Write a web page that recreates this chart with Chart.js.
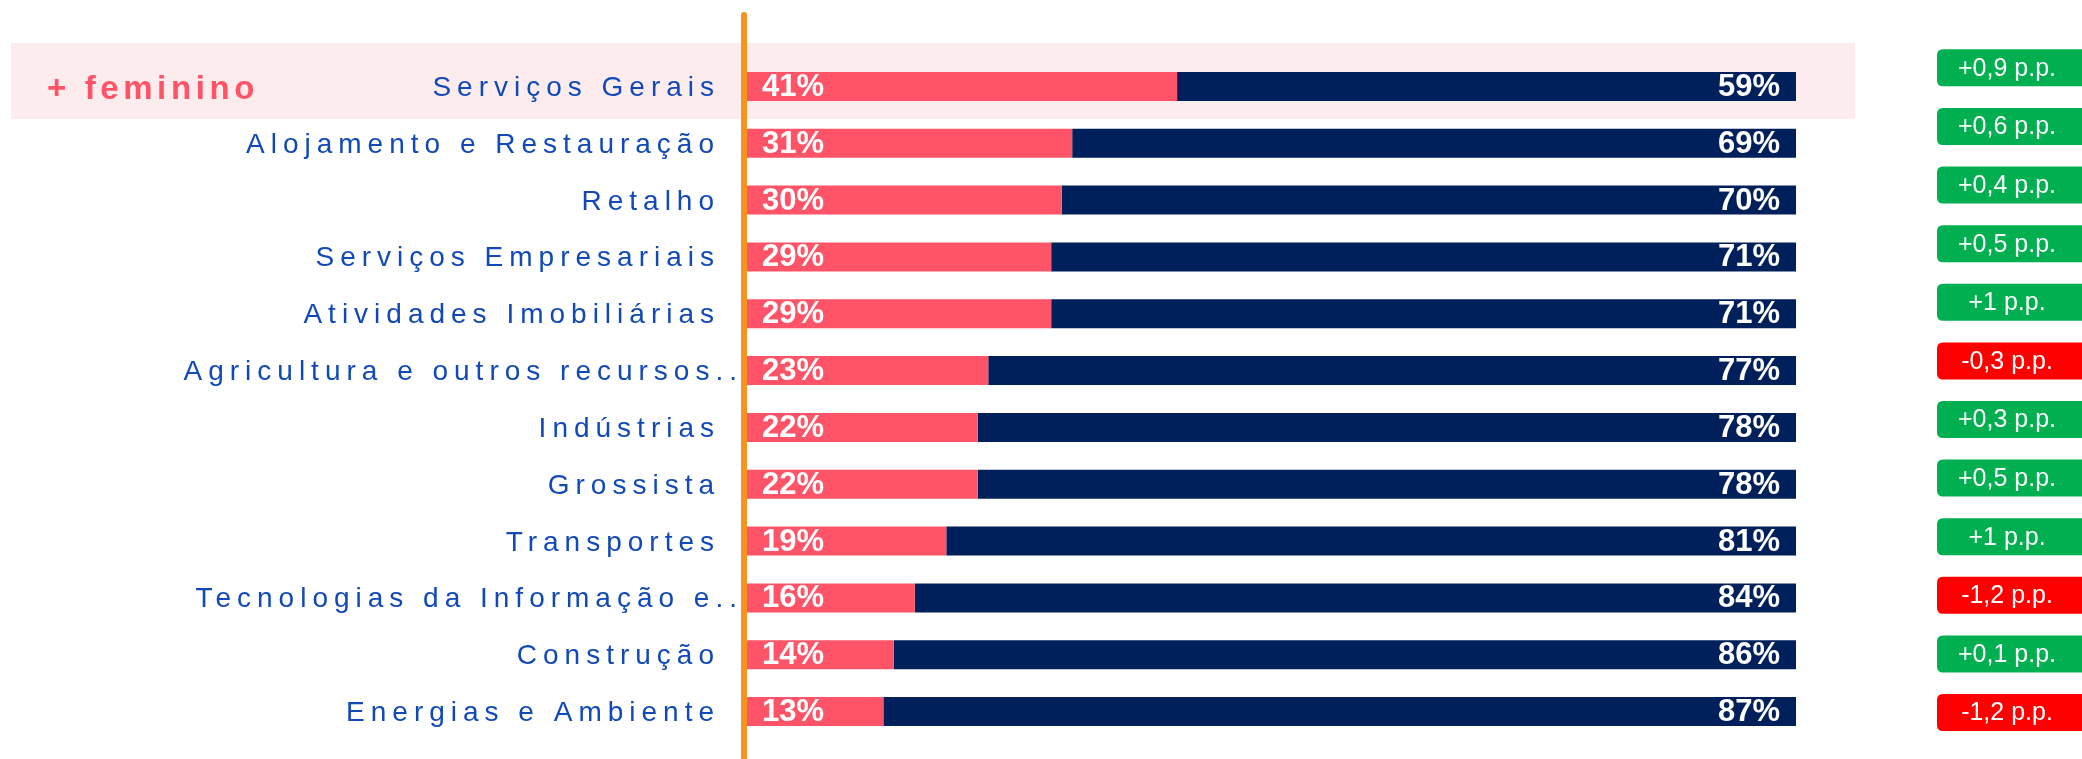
<!DOCTYPE html>
<html>
<head>
<meta charset="utf-8">
<script src="https://cdn.jsdelivr.net/npm/chart.js@4/dist/chart.umd.min.js"></script>
<style>
  html, body { margin: 0; padding: 0; background: #fff; overflow: hidden; }
</style>
</head>
<body>
<canvas id="my-chart" width="2082" height="759"></canvas>
<script>
let sectors = [
    'Serviços Gerais',
    'Alojamento e Restauração',
    'Retalho',
    'Serviços Empresariais',
    'Atividades Imobiliárias',
    'Agricultura e outros recursos..',
    'Indústrias',
    'Grossista',
    'Transportes',
    'Tecnologias da Informação e..',
    'Construção',
    'Energias e Ambiente'
];
let feminino = [41, 31, 30, 29, 29, 23, 22, 22, 19, 16, 14, 13];
let masculino = [59, 69, 70, 71, 71, 77, 78, 78, 81, 84, 86, 87];
// variação em pontos percentuais
let variacao = [0.9, 0.6, 0.4, 0.5, 1, -0.3, 0.3, 0.5, 1, -1.2, 0.1, -1.2];
let highlightLabel = '+ feminino';

const PINK = '#ff5468';
const NAVY = '#00205b';
const BLUE_TEXT = '#1249b8';
const FONT = 'Arial, "Liberation Sans", sans-serif';

function fmtVar(v) {
    let s = String(Math.abs(v)).replace('.', ',');
    return (v < 0 ? '-' : '+') + s + ' p.p.';
}

function roundRect(ctx, x, y, w, h, r) {
    ctx.beginPath();
    ctx.moveTo(x + r, y);
    ctx.lineTo(x + w - r, y);
    ctx.quadraticCurveTo(x + w, y, x + w, y + r);
    ctx.lineTo(x + w, y + h - r);
    ctx.quadraticCurveTo(x + w, y + h, x + w - r, y + h);
    ctx.lineTo(x + r, y + h);
    ctx.quadraticCurveTo(x, y + h, x, y + h - r);
    ctx.lineTo(x, y + r);
    ctx.quadraticCurveTo(x, y, x + r, y);
    ctx.closePath();
}

const decorations = {
    id: 'decorations',
    beforeDatasetsDraw(chart) {
        const ctx = chart.ctx;
        const yScale = chart.scales.y;
        const first = yScale.getPixelForValue(0);
        // faixa de destaque da primeira linha
        ctx.save();
        ctx.fillStyle = '#fdecee';
        ctx.fillRect(11, first - 43.5, 1844, 76);
        ctx.restore();

        // nomes dos setores
        ctx.save();
        ctx.font = '28px ' + FONT;
        ctx.fillStyle = BLUE_TEXT;
        ctx.textAlign = 'right';
        ctx.textBaseline = 'alphabetic';
        ctx.letterSpacing = '6px';
        sectors.forEach((s, i) => {
            const y = yScale.getPixelForValue(i);
            const x = s.endsWith('..') ? 743 : 720;
            ctx.fillText(s, x, y + 9.5);
        });
        // etiqueta + feminino
        ctx.font = 'bold 33px ' + FONT;
        ctx.fillStyle = PINK;
        ctx.textAlign = 'left';
        ctx.letterSpacing = '4.6px';
        ctx.fillText(highlightLabel, 47, first + 12.5);
        ctx.restore();
    },
    afterDatasetsDraw(chart) {
        const ctx = chart.ctx;
        const yScale = chart.scales.y;
        // valores nas barras
        ctx.save();
        ctx.font = 'bold 31px ' + FONT;
        ctx.fillStyle = '#ffffff';
        ctx.textBaseline = 'middle';
        chart.getDatasetMeta(0).data.forEach((bar, i) => {
            ctx.textAlign = 'left';
            ctx.fillText(feminino[i] + '%', bar.base + 15, bar.y + 1);
        });
        chart.getDatasetMeta(1).data.forEach((bar, i) => {
            ctx.textAlign = 'right';
            ctx.fillText(masculino[i] + '%', bar.x - 16, bar.y + 1);
        });
        ctx.restore();

        // linha laranja vertical
        const area = chart.chartArea;
        ctx.save();
        ctx.strokeStyle = '#f7941d';
        ctx.lineWidth = 6;
        ctx.lineCap = 'round';
        ctx.beginPath();
        ctx.moveTo(area.left - 3, 15);
        ctx.lineTo(area.left - 3, chart.height + 5);
        ctx.stroke();
        ctx.restore();

        // caixas de variação (coluna própria, um pouco mais espaçada)
        const n = variacao.length;
        const top = yScale.getPixelForValue(0) - 18.6;
        const bottom = yScale.getPixelForValue(n - 1) + 1;
        const step = (bottom - top) / (n - 1);
        ctx.save();
        ctx.font = '25px ' + FONT;
        ctx.textAlign = 'center';
        ctx.textBaseline = 'middle';
        variacao.forEach((v, i) => {
            const y = top + i * step;
            ctx.fillStyle = v < 0 ? '#ff0000' : '#00b050';
            roundRect(ctx, 1937, y - 18.5, 170, 37, 6);
            ctx.fill();
            ctx.fillStyle = '#ffffff';
            ctx.fillText(fmtVar(v), 2007, y + 1);
        });
        ctx.restore();
    }
};

let ctx = document.querySelector('#my-chart').getContext('2d');
let myChart = new Chart(ctx, {
    type: 'bar',
    data: {
        labels: sectors,
        datasets: [{
            label: 'Feminino',
            data: feminino,
            backgroundColor: PINK
        }, {
            label: 'Masculino',
            data: masculino,
            backgroundColor: NAVY
        }]
    },
    options: {
        indexAxis: 'y',
        responsive: false,
        animation: false,
        layout: {
            padding: { left: 747, right: 286, top: 58, bottom: 19 }
        },
        datasets: {
            bar: { categoryPercentage: 1, barPercentage: 0.51 }
        },
        scales: {
            x: { stacked: true, min: 0, max: 100, display: false },
            y: { stacked: true, display: false }
        },
        plugins: {
            legend: { display: false },
            tooltip: { enabled: false }
        }
    },
    plugins: [decorations]
});
</script>
</body>
</html>
